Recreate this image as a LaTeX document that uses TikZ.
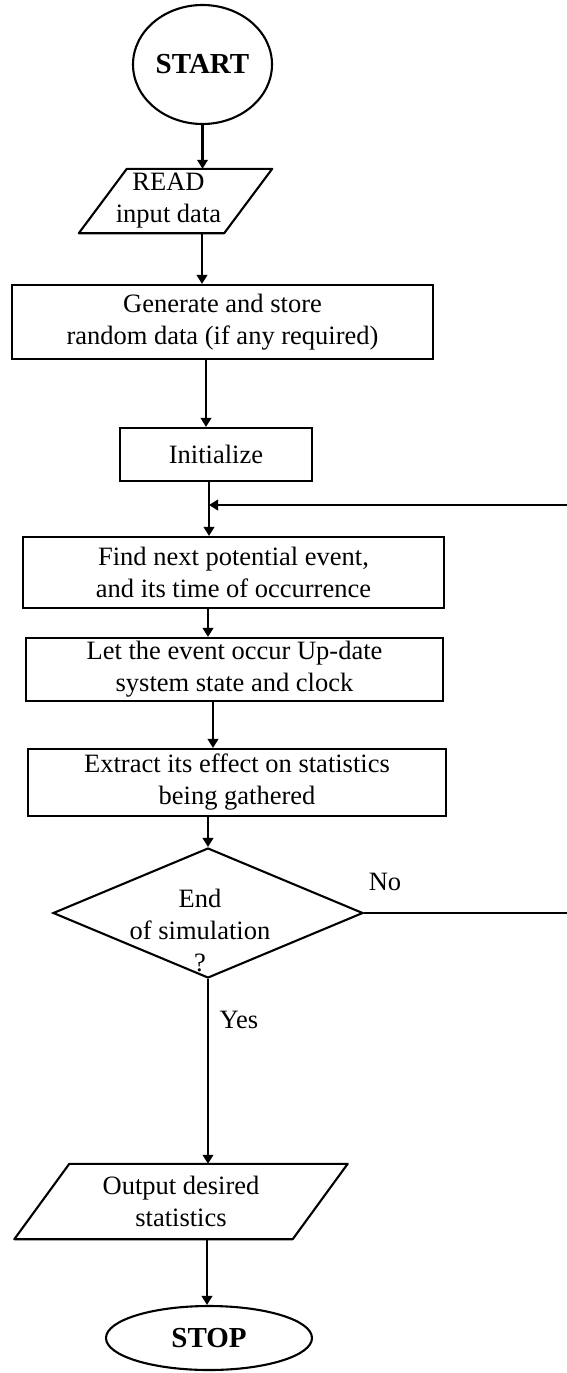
\documentclass[tikz,border=0pt]{standalone}
\usepackage{fontspec}
\setmainfont{Liberation Serif}
\usetikzlibrary{shapes.geometric,arrows.meta}
\begin{document}
\begin{tikzpicture}[x=1pt,y=-1pt,
  every node/.style={font=\fontsize{26.5}{32}\selectfont, inner sep=0pt, align=center},
  lw/.style={line width=2.1pt},
  box/.style={draw, rectangle, lw},
  term/.style={draw, ellipse, lw, font=\fontsize{29}{34}\selectfont\bfseries},
  arr/.style={lw, -{Triangle[length=9pt,width=10.5pt]}}
]
% page frame
\fill[white] (0,0) rectangle (567,1373);
\useasboundingbox (0,0) rectangle (567,1373);

% terminals, process boxes and decision
\node[term, minimum width=139pt, minimum height=119pt] (start) at (202.5,64.5) {START};
\node[minimum width=145pt, minimum height=64pt] (read) at (175.5,201) {READ\hspace*{14pt}\\input data\hspace*{14pt}};
\node[box, minimum width=421pt, minimum height=74pt] (gen) at (222.5,322) {Generate and store\\random data (if any required)};
\node[box, minimum width=192pt, minimum height=53pt] (init) at (216,454.5) {Initialize};
\node[box, minimum width=421pt, minimum height=71pt] (find) at (233.5,572.5) {Find next potential event,\\and its time of occurrence};
\node[box, minimum width=417pt, minimum height=63pt] (upd) at (234.5,669.5) {Let the event occur Up-date\\system state and clock};
\node[box, minimum width=418pt, minimum height=67pt] (stats) at (237,782.5) {Extract its effect on statistics\\being gathered};
\node[draw, diamond, lw, minimum width=310pt, minimum height=130pt] (dec) at (208,913) {};
\node (dectext) at (200,930) {End\\of simulation\\?};
\node[minimum width=278pt, minimum height=75pt] (out) at (181,1201.5) {Output desired\\statistics};
\node[term, minimum width=206pt, minimum height=64pt] (stop) at (209,1338) {STOP};

% input / output parallelograms
\draw[lw, line join=round] ([xshift=24pt]read.north west) -- ([xshift=24pt]read.north east)
  -- ([xshift=-24pt]read.south east) -- ([xshift=-24pt]read.south west) -- cycle;
\draw[lw, line join=round] ([xshift=27.5pt]out.north west) -- ([xshift=27.5pt]out.north east)
  -- ([xshift=-27.5pt]out.south east) -- ([xshift=-27.5pt]out.south west) -- cycle;

% branch labels
\node (nolab) at (385,882) {No};
\node (yeslab) at (239,1020) {Yes};

% flow connectors
\coordinate (merge) at (209,505);
\coordinate (rail) at (580,0);
\draw[arr] (start.south) -- (read.north -| start.south);
\draw[arr] (read.south -| 202,0) -- (gen.north -| 202,0);
\draw[arr] (gen.south -| 206,0) -- (init.north -| 206,0);
\draw[arr] (init.south -| merge) -- (find.north -| merge);
\draw[arr] (find.south -| 208,0) -- (upd.north -| 208,0);
\draw[arr] (upd.south -| 213,0) -- (stats.north -| 213,0);
\draw[arr] (stats.south -| dec.north) -- (dec.north);
\draw[arr] (dec.south) -- (out.north -| dec.south);
\draw[arr] (out.south -| 207,0) -- (stop.north -| 207,0);
% loop back when the run is not finished
\draw[arr] (dec.east) -- (dec.east -| rail) |- (merge);
\end{tikzpicture}
\end{document}
